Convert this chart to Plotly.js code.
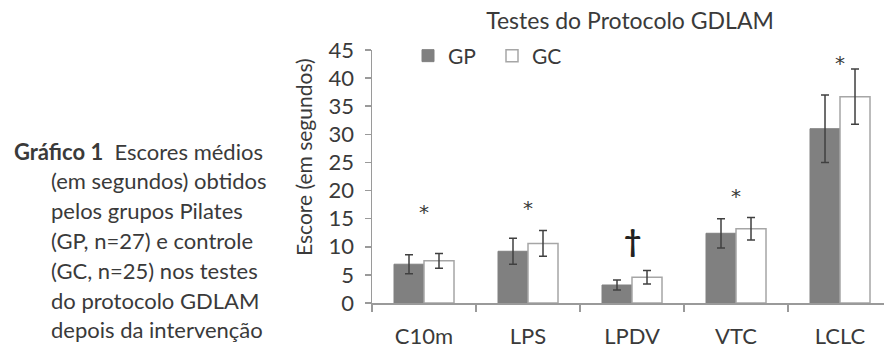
<!DOCTYPE html>
<html>
<head>
<meta charset="utf-8">
<script src="https://cdn.plot.ly/plotly-3.0.1.min.js"></script>
<style>html,body{margin:0;padding:0;background:#fff;}#chart{width:884px;height:349px;}</style>
</head>
<body>
<div id="chart"></div>
<script>
// ---- data ----
const categories = ["C10m", "LPS", "LPDV", "VTC", "LCLC"];
const gpMeans = [6.9, 9.2, 3.2, 12.4, 31.0];
const gpErrors = [1.7, 2.3, 0.9, 2.6, 6.0];
const gcMeans = [7.5, 10.6, 4.6, 13.2, 36.7];
const gcErrors = [1.3, 2.3, 1.2, 2.0, 4.9];
const sigMarks = ["*", "*", "†", "*", "*"];
const sigY = [16.9, 17.6, 11.2, 19.7, 43.4];
const yTicks = [0, 5, 10, 15, 20, 25, 30, 35, 40, 45];
const captionLines = [
  "<b>Gráfico 1</b>  Escores médios",
  "(em segundos) obtidos",
  "pelos grupos Pilates",
  "(GP, n=27) e controle",
  "(GC, n=25) nos testes",
  "do protocolo GDLAM",
  "depois da intervenção"
];

const FONT = "Lato, 'Open Sans', sans-serif";
const TXT = "#3a3a3a";

const traces = [
  {
    type: "bar", name: "GP", x: categories, y: gpMeans,
    marker: {color: "#808080", line: {color: "#808080", width: 1}},
    error_y: {type: "data", array: gpErrors, visible: true, color: "#404040", thickness: 1.5, width: 4}
  },
  {
    type: "bar", name: "GC", x: categories, y: gcMeans,
    marker: {color: "#ffffff", line: {color: "#a6a6a6", width: 1.5}},
    error_y: {type: "data", array: gcErrors, visible: true, color: "#404040", thickness: 1.5, width: 4}
  }
];

const annotations = [];
categories.forEach((c, i) => {
  const dag = sigMarks[i] === "†";
  annotations.push({
    x: c, y: sigY[i], xref: "x", yref: "y", text: dag ? "<b>" + sigMarks[i] + "</b>" : sigMarks[i], showarrow: false,
    font: {family: dag ? FONT : "'DejaVu Sans', sans-serif", size: dag ? 30 : 20, color: dag ? "#222222" : TXT},
    yanchor: "middle", yshift: dag ? 0 : -4
  });
});
annotations.push({
  xref: "paper", yref: "paper", x: (303 - 372) / 512, y: (303 - 157) / 253,
  text: "Escore (em segundos)", textangle: -90, showarrow: false,
  font: {family: FONT, size: 21, color: TXT}, xanchor: "center", yanchor: "middle"
});
captionLines.forEach((t, i) => {
  const px = i === 0 ? 12 : 49;
  const baseline = 158 + i * 29.8;
  annotations.push({
    xref: "paper", yref: "paper", x: (px - 372) / 512, y: (303 - (baseline - 7)) / 253,
    text: t, showarrow: false, xanchor: "left", yanchor: "middle", align: "left",
    font: {family: FONT, size: 22, color: TXT}
  });
});

const layout = {
  width: 884, height: 349,
  margin: {l: 372, r: 0, t: 50, b: 46, pad: 0},
  paper_bgcolor: "#fff", plot_bgcolor: "#fff",
  font: {family: FONT, size: 22, color: TXT},
  title: {text: "Testes do Protocolo GDLAM", x: 630 / 884, xref: "container", xanchor: "center",
          y: 1 - 21 / 349, yref: "container", yanchor: "middle",
          font: {family: FONT, size: 23, color: TXT}},
  barmode: "group", bargap: 0.423, bargroupgap: 0,
  showlegend: true,
  legend: {orientation: "h", x: (408 - 372) / 512, y: (303 - 56) / 253, xanchor: "left", yanchor: "middle",
           entrywidth: 39, entrywidthmode: "pixels", font: {family: FONT, size: 21, color: TXT},
           bgcolor: "rgba(0,0,0,0)", traceorder: "normal"},
  xaxis: {
    type: "category", range: [-0.5, 4.423], showline: true, linecolor: "#9a9a9a", linewidth: 1.5,
    ticks: "outside", tickson: "boundaries", ticklen: 7, tickcolor: "#9a9a9a", tickwidth: 1.5,
    showgrid: false, zeroline: false, ticklabelstandoff: 13,
    tickfont: {family: FONT, size: 22, color: TXT}
  },
  yaxis: {
    range: [0, 45], tickvals: yTicks, ticktext: yTicks.map(String), showline: true, linecolor: "#9a9a9a", linewidth: 1.5,
    ticks: "outside", ticklen: 6, tickcolor: "#9a9a9a", tickwidth: 1.5,
    showgrid: false, zeroline: false, ticklabelstandoff: 6,
    tickfont: {family: FONT, size: 22, color: TXT}
  },
  annotations: annotations
};

Plotly.newPlot("chart", traces, layout, {displayModeBar: false, staticPlot: true});
</script>
</body>
</html>
